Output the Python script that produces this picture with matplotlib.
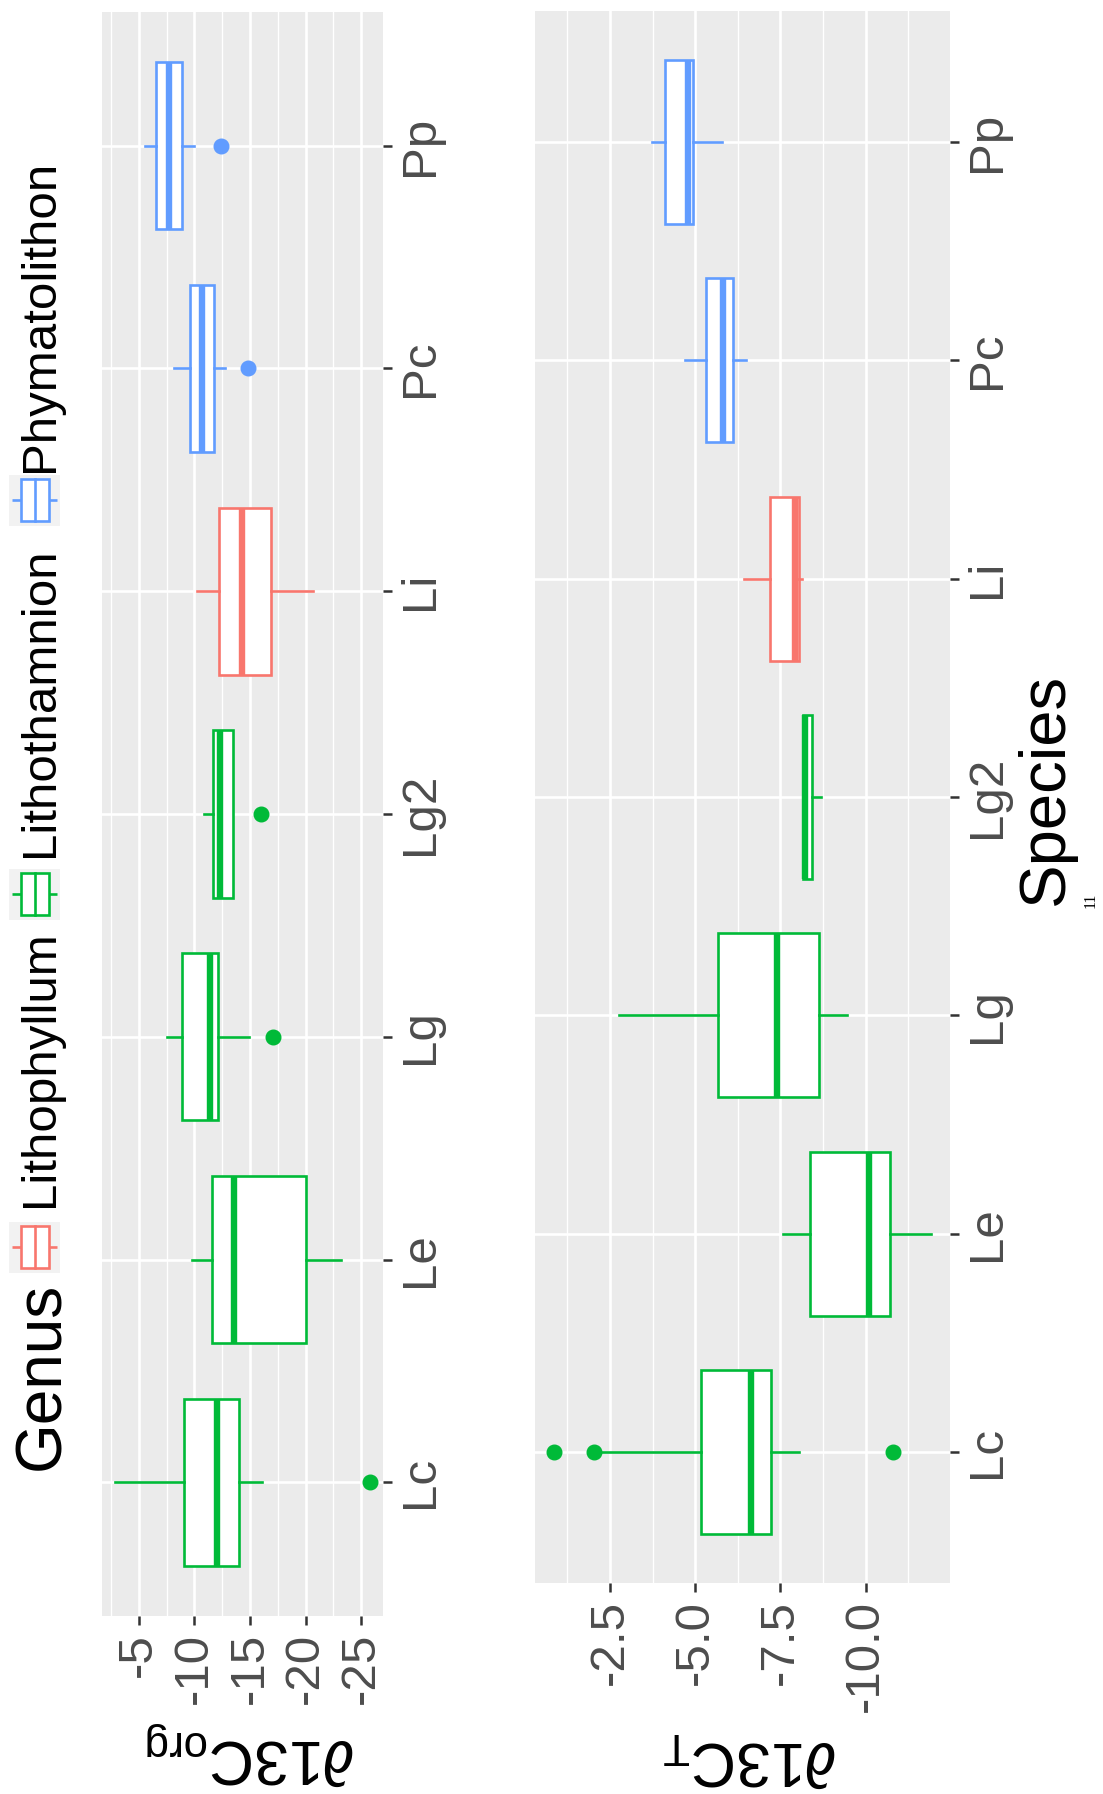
import matplotlib
matplotlib.use('Agg')
import matplotlib.pyplot as plt
from matplotlib.patches import Rectangle
from matplotlib.ticker import FixedLocator

plt.rcParams['font.family'] = ['Liberation Sans', 'DejaVu Sans']
plt.rcParams['mathtext.fontset'] = 'custom'
plt.rcParams['mathtext.rm'] = 'Liberation Sans'
plt.rcParams['mathtext.it'] = 'Liberation Sans:italic'
plt.rcParams['mathtext.default'] = 'regular'
plt.rcParams['axes.unicode_minus'] = False

species = ['Lc', 'Le', 'Lg', 'Lg2', 'Li', 'Pc', 'Pp']
genus = ['Lithophyllum', 'Lithophyllum', 'Lithophyllum', 'Lithophyllum',
         'Lithothamnion', 'Phymatolithon', 'Phymatolithon']
genus_colors = {'Lithophyllum': '#00BA38', 'Lithothamnion': '#F8766D',
                'Phymatolithon': '#619CFF'}

# legend as printed in the figure (key colours in printed order)
legend_title = 'Genus'
legend_labels = ['Lithophyllum', 'Lithothamnion', 'Phymatolithon']
legend_colors = ['#F8766D', '#00BA38', '#619CFF']

# d13C org, box stats per species
org_low = [-16.1, -23.2, -14.9, -13.5, -20.65, -12.75, -10.0]
org_q1 = [-14.0, -20.0, -12.1, -13.5, -16.85, -11.8, -8.87]
org_med = [-12.0, -13.6, -11.4, -12.3, -14.25, -10.7, -7.73]
org_q3 = [-9.1, -11.6, -8.9, -11.7, -12.2, -9.6, -6.55]
org_high = [-2.85, -9.75, -7.5, -10.9, -10.25, -8.15, -5.54]
org_out = [[-25.8], [], [-17.1], [-16.0], [], [-14.8], [-12.4]]
org_ticks = [-5, -10, -15, -20, -25]
org_ticklabels = ['-5', '-10', '-15', '-20', '-25']
org_minor = [-2.5, -7.5, -12.5, -17.5, -22.5]

# d13C T, box stats per species
t_low = [-8.04, -11.92, -9.45, -8.69, -8.14, -6.48, -5.77]
t_q1 = [-7.21, -10.71, -8.64, -8.42, -8.03, -6.12, -4.93]
t_med = [-6.62, -10.09, -7.40, -8.22, -7.94, -5.80, -4.80]
t_q3 = [-5.16, -8.38, -5.68, -8.15, -7.19, -5.32, -4.10]
t_high = [-2.2, -7.56, -2.76, -8.15, -6.42, -4.69, -3.74]
t_out = [[-0.85, -2.02, -10.81], [], [], [], [], [], []]
t_ticks = [-2.5, -5.0, -7.5, -10.0]
t_ticklabels = ['-2.5', '-5.0', '-7.5', '-10.0']
t_minor = [-1.25, -3.75, -6.25, -8.75, -11.25]


def draw_panel(ax, low, q1, med, q3, high, out, ticks, ticklabels, minor):
    stats = []
    for i in range(len(species)):
        stats.append(dict(whislo=low[i], q1=q1[i], med=med[i], q3=q3[i],
                          whishi=high[i], fliers=out[i]))
    pos = list(range(1, len(species) + 1))
    art = ax.bxp(stats, positions=pos, widths=0.75, orientation='horizontal',
                 showcaps=False, patch_artist=True, manage_ticks=False)
    for i in range(len(species)):
        c = genus_colors[genus[i]]
        art['boxes'][i].set(facecolor='white', edgecolor=c, linewidth=1.9)
        art['medians'][i].set(color=c, linewidth=4.6, solid_capstyle='butt')
        for w in art['whiskers'][2 * i:2 * i + 2]:
            w.set(color=c, linewidth=1.9)
        art['fliers'][i].set(marker='o', markerfacecolor=c, markeredgecolor=c,
                             markersize=10.5)

    # ggplot style 5% expansion, value axis reversed
    vals = low + high + [v for o in out for v in o]
    lo, hi = min(vals), max(vals)
    pad = 0.05 * (hi - lo)
    ax.set_xlim(hi + pad, lo - pad)
    ax.set_ylim(0.4, len(species) + 0.6)

    ax.set_facecolor('#EBEBEB')
    for s in ax.spines.values():
        s.set_visible(False)
    ax.xaxis.set_major_locator(FixedLocator(ticks))
    ax.xaxis.set_minor_locator(FixedLocator(minor))
    ax.set_xticklabels(ticklabels)
    ax.set_yticks(pos)
    ax.set_yticklabels(species)
    ax.yaxis.tick_right()
    ax.set_axisbelow(True)
    ax.grid(which='major', color='white', linewidth=1.9)
    ax.grid(which='minor', axis='x', color='white', linewidth=0.95)
    ax.tick_params(axis='x', which='major', length=6.5, width=1.8, color='#333333',
                   labelcolor='#4D4D4D', labelsize=35.5, pad=5.5, labelrotation=90)
    ax.tick_params(axis='x', which='minor', length=0)
    ax.tick_params(axis='y', length=6.5, width=1.8, color='#333333',
                   labelcolor='#4D4D4D', labelsize=35.5, pad=4.5, labelrotation=90)
    for lbl in ax.get_yticklabels():
        lbl.set_va('center')


W, H = 1103, 1794
fig = plt.figure(figsize=(W / 100, H / 100), dpi=100)

ax1 = fig.add_axes([102 / W, (H - 1616) / H, 281 / W, 1604 / H])
draw_panel(ax1, org_low, org_q1, org_med, org_q3, org_high, org_out,
           org_ticks, org_ticklabels, org_minor)

ax2 = fig.add_axes([535 / W, (H - 1583) / H, 415 / W, 1572 / H])
draw_panel(ax2, t_low, t_q1, t_med, t_q3, t_high, t_out,
           t_ticks, t_ticklabels, t_minor)

# overlay in pixel coords for legend and titles
ov = fig.add_axes([0, 0, 1, 1])
ov.set_xlim(0, W)
ov.set_ylim(H, 0)
ov.axis('off')

ov.text(251, 1740, '∂13C$_{org}$', rotation=180, rotation_mode='anchor',
        ha='center', va='baseline', fontsize=45, color='black')
ov.text(750, 1742, '∂13C$_{T}$', rotation=180, rotation_mode='anchor',
        ha='center', va='baseline', fontsize=45, color='black')
ov.text(1063, 789, 'Species', rotation=90, rotation_mode='anchor',
        ha='center', va='baseline', fontsize=47, color='black')
ov.text(1091, 900, '11', rotation=90, ha='center', va='center', fontsize=11.5,
        family=['Liberation Serif', 'DejaVu Serif'], color='black')

# legend
ov.text(59, 1470, legend_title, rotation=90, rotation_mode='anchor',
        ha='left', va='baseline', fontsize=46, color='black')
key_tops = [1222, 869, 475]
label_starts = [1207, 857, 472]
for lab, col, kt, ls in zip(legend_labels, legend_colors, key_tops, label_starts):
    ov.add_patch(Rectangle((9, kt), 51, 51, facecolor='#F2F2F2', edgecolor='none',
                           zorder=1))
    cy = kt + 25.5
    ov.plot([12, 57], [cy, cy], color=col, linewidth=1.9, solid_capstyle='butt',
            zorder=2)
    ov.add_patch(Rectangle((21, cy - 21), 28, 42, facecolor='white',
                           edgecolor=col, linewidth=1.9, zorder=3))
    ov.plot([34.5, 34.5], [cy - 21, cy + 21], color=col, linewidth=1.9, zorder=4)
    ov.text(53, ls, lab, rotation=90, rotation_mode='anchor',
            ha='left', va='baseline', fontsize=35.5, color='black')

fig.savefig('out.png', dpi=100)
